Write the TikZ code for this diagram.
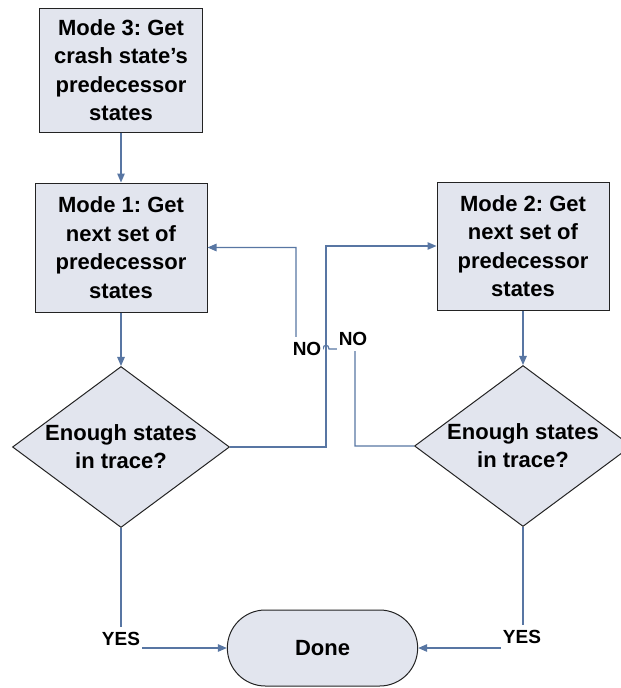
\documentclass[tikz,border=0pt]{standalone}
\usepackage{fontspec}
\setmainfont{Liberation Sans}
\usetikzlibrary{shapes.geometric,shapes.misc,arrows.meta}
\definecolor{boxfill}{RGB}{226,229,238}
\definecolor{flowblue}{RGB}{88,118,163}
\definecolor{boxline}{RGB}{35,35,35}
\frenchspacing

\begin{document}
\begin{tikzpicture}[x=1pt,y=-1pt,
		modebox/.style={draw=boxline, fill=boxfill, line width=1pt, rectangle, align=center, inner sep=0pt, font=\fontsize{22}{28.5}\selectfont\bfseries},
		decision/.style={draw=boxline, fill=boxfill, line width=1pt, diamond, inner sep=0pt, minimum width=217pt, minimum height=161pt},
		qtext/.style={align=center, font=\fontsize{22}{28}\selectfont\bfseries},
		flow/.style={draw=flowblue, line width=1.2pt, -{Triangle[length=9pt,width=7.5pt]}},
		tag/.style={fill=white, inner xsep=2pt, inner ysep=5pt, font=\fontsize{19}{22}\selectfont\bfseries}]
		\useasboundingbox (0,0) rectangle (621,688);

		\node[modebox, minimum width=163pt, minimum height=124pt] (b3) at (121,70) {Mode 3: Get\\crash state’s\\predecessor\\states};
		\node[modebox, minimum width=172pt, minimum height=129pt] (b1) at (121,247.5) {Mode 1: Get\\next set of\\predecessor\\states};
		\node[modebox, minimum width=172pt, minimum height=128pt] (b2) at (523,246) {Mode 2: Get\\next set of\\predecessor\\states};

		\node[decision, label={[qtext]center:Enough states\\in trace?}] (d1) at (121,447) {};
		\node[decision, label={[qtext]center:Enough states\\in trace?}] (d2) at (523,446) {};

		\node[draw=boxline, fill=boxfill, line width=1pt, rounded rectangle, minimum width=197pt, minimum height=76pt, font=\fontsize{22}{28}\selectfont\bfseries] (done) at (322.5,648) {Done};

		\draw[flow] (b3) -- (b1);
		\draw[flow] (b1) -- (d1);
		\draw[flow] (b2) -- (d2);

		\draw[flow] (d1.east) -- (326,447) |- (b2.west);
		\draw[flow] (d2.west) -- (355,446) -- (355,349) -- (329,349) .. controls (329,344) and (323,344) .. (323,349) -- (296,349) |- (b1.east);

		\draw[flow] (d1.south) |- (done.west);
		\draw[flow] (d2.south) |- (done.east);

		\node[tag] (no1) at (307,349) {NO};
		\node[tag] (no2) at (353,339) {NO};
		\node[tag] (yes1) at (121,639) {YES};
		\node[tag] (yes2) at (522,637) {YES};

	\end{tikzpicture}
\end{document}
